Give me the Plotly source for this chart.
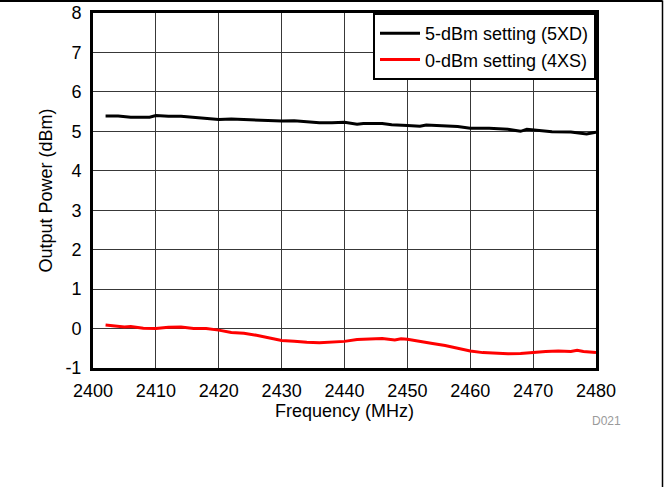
import plotly.graph_objects as go

freq_5dbm = [2402, 2404, 2406, 2408, 2409, 2410, 2412, 2414, 2416, 2418, 2420, 2422, 2424,
             2426, 2428, 2430, 2432, 2434, 2436, 2438, 2440, 2442, 2443, 2446, 2447.5, 2450,
             2452, 2453, 2456, 2458, 2460, 2463, 2466, 2468, 2469, 2471, 2473, 2476, 2478,
             2478.5, 2480]
power_5dbm = [5.39, 5.39, 5.36, 5.35, 5.36, 5.40, 5.38, 5.38, 5.35, 5.33, 5.30, 5.31, 5.30,
              5.29, 5.28, 5.26, 5.27, 5.24, 5.22, 5.22, 5.23, 5.18, 5.20, 5.20, 5.17, 5.15,
              5.13, 5.16, 5.13, 5.12, 5.08, 5.08, 5.05, 5.00, 5.05, 5.02, 4.99, 4.98, 4.95,
              4.93, 4.98]

freq_0dbm = [2402, 2404, 2405, 2406, 2408, 2410, 2412, 2414, 2416, 2418, 2420, 2422, 2424,
             2426, 2428, 2430, 2432, 2434, 2436, 2438, 2440, 2442, 2444, 2446, 2448, 2449,
             2450, 2452, 2454, 2456, 2458, 2460, 2462, 2464, 2466, 2468, 2470, 2472, 2474,
             2476, 2477, 2478, 2480]
power_0dbm = [0.09, 0.06, 0.04, 0.05, 0.01, 0.00, 0.03, 0.04, 0.00, 0.00, -0.04, -0.10, -0.12,
              -0.17, -0.23, -0.30, -0.32, -0.35, -0.36, -0.34, -0.325, -0.28, -0.27, -0.25,
              -0.29, -0.26, -0.27, -0.33, -0.38, -0.43, -0.50, -0.57, -0.61, -0.62, -0.64,
              -0.63, -0.60, -0.58, -0.57, -0.58, -0.55, -0.58, -0.61]

x_ticks = [2400, 2410, 2420, 2430, 2440, 2450, 2460, 2470, 2480]
y_ticks = [-1, 0, 1, 2, 3, 4, 5, 6, 7, 8]

FONT = "Liberation Sans, Arial, sans-serif"

fig = go.Figure()
fig.add_trace(go.Scatter(x=freq_5dbm, y=power_5dbm, mode="lines",
                         name="5-dBm setting (5XD)",
                         line=dict(color="black", width=3)))
fig.add_trace(go.Scatter(x=freq_0dbm, y=power_0dbm, mode="lines",
                         name="0-dBm setting (4XS)",
                         line=dict(color="#ff0000", width=3)))

fig.update_layout(
    width=669, height=487,
    margin=dict(l=93, r=73, t=13, b=119, autoexpand=False),
    paper_bgcolor="white", plot_bgcolor="white",
    font=dict(family=FONT, size=18, color="black"),
    showlegend=True,
    legend=dict(x=1, xanchor="right", y=1, yanchor="top",
                bgcolor="white", bordercolor="black", borderwidth=2,
                font=dict(size=18), tracegroupgap=0,
                itemwidth=40),
    xaxis=dict(range=[2400, 2480], tickvals=x_ticks, ticktext=[str(v) for v in x_ticks],
               showgrid=True, gridcolor="#383838", gridwidth=1,
               showline=True, linecolor="black", linewidth=3, mirror=True,
               ticks="", ticklabelstandoff=4, zeroline=False, automargin=False,
               title=dict(text="Frequency (MHz)", standoff=4, font=dict(size=18))),
    yaxis=dict(range=[-1, 8], tickvals=y_ticks, ticktext=[str(v) for v in y_ticks],
               showgrid=True, gridcolor="#383838", gridwidth=1,
               showline=True, linecolor="black", linewidth=3, mirror=True,
               ticks="", ticklabelstandoff=5, zeroline=False, automargin=False,
               title=dict(text="Output Power (dBm)", standoff=9, font=dict(size=18))),
    annotations=[dict(text="D021", xref="paper", yref="paper",
                      x=(606 - 93) / 503, y=(368 - 421) / 355,
                      xanchor="center", yanchor="middle", showarrow=False,
                      font=dict(size=12, color="#9a9a9a"))],
    shapes=[
        dict(type="line", xref="paper", yref="paper",
             x0=-93 / 503, x1=(662.5 - 93) / 503, y0=(368 - 1) / 355, y1=(368 - 1) / 355,
             line=dict(color="black", width=2)),
        dict(type="line", xref="paper", yref="paper",
             x0=(662.5 - 93) / 503, x1=(662.5 - 93) / 503, y0=(368 - 0.5) / 355, y1=(368 - 487) / 355,
             line=dict(color="black", width=1.5)),
    ],
)

fig.write_html("out.html", config={"displayModeBar": False},
               post_script="document.body.style.margin='0';document.body.style.padding='0';")
